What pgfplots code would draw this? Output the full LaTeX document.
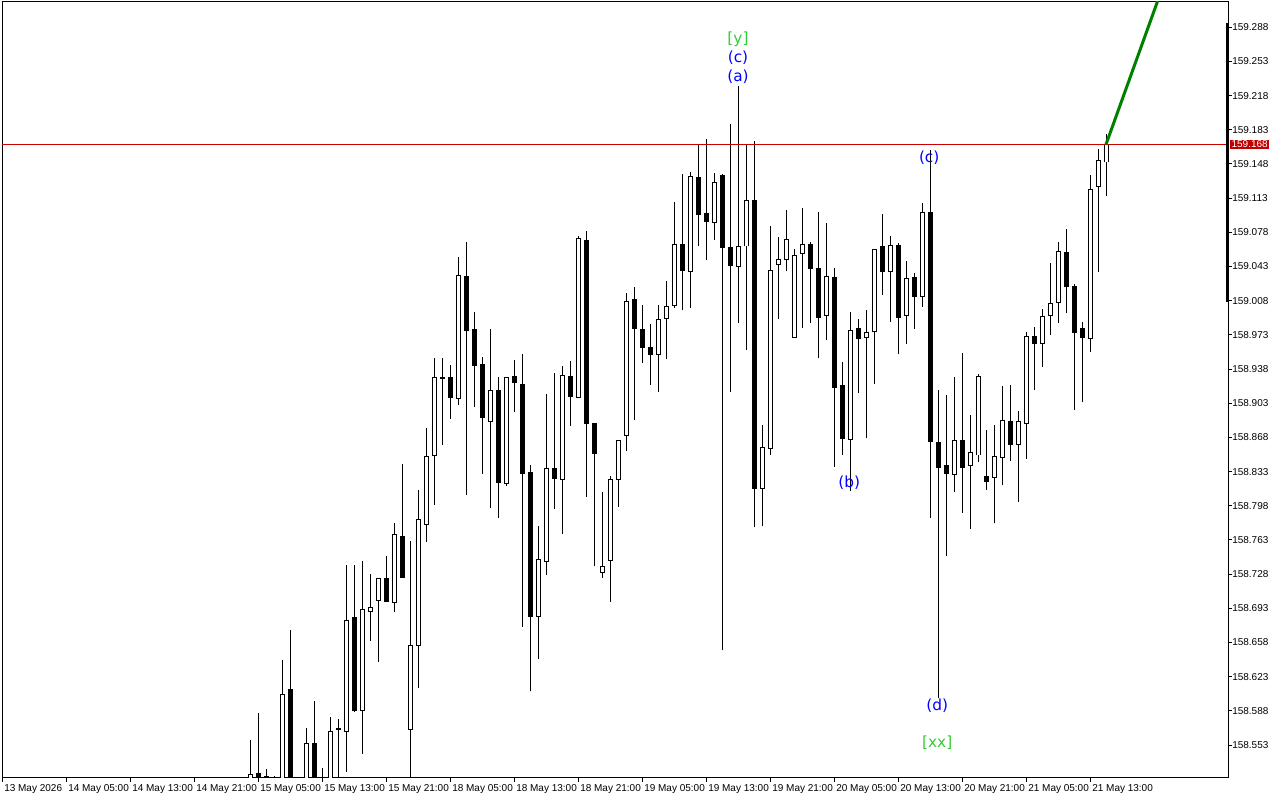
\documentclass[border=0pt]{standalone}
\usepackage{fontspec}
\setmainfont{Liberation Sans}
\newfontfamily\wavefont{DejaVu Sans}
\usepackage{pgfplots}
\usepackage{pgfplotstable}
\pgfplotsset{compat=1.18}
\definecolor{mtred}{RGB}{200,0,0}
\definecolor{mtlabel}{RGB}{192,0,0}
\definecolor{mtgreen}{RGB}{0,128,0}
\definecolor{wavegreen}{RGB}{50,205,50}
\definecolor{waveblue}{RGB}{0,0,255}

\pgfplotstableread{
i o h l c
31 158.510 158.558 158.500 158.523
32 158.524 158.586 158.510 158.520
33 158.521 158.529 158.505 158.517
34 158.510 158.521 158.490 158.505
35 158.500 158.640 158.490 158.605
36 158.610 158.671 158.480 158.490
37 158.495 158.510 158.470 158.500
38 158.500 158.570 158.490 158.555
39 158.555 158.598 158.490 158.500
40 158.505 158.530 158.490 158.515
41 158.510 158.582 158.500 158.567
42 158.570 158.580 158.500 158.569
43 158.567 158.737 158.525 158.681
44 158.684 158.737 158.587 158.588
45 158.588 158.741 158.544 158.692
46 158.690 158.728 158.660 158.694
47 158.701 158.724 158.638 158.724
48 158.724 158.747 158.699 158.700
49 158.699 158.780 158.689 158.769
50 158.767 158.841 158.724 158.725
51 158.569 158.762 158.500 158.655
52 158.655 158.814 158.611 158.784
53 158.779 158.878 158.761 158.848
54 158.849 158.949 158.799 158.929
55 158.929 158.949 158.860 158.928
56 158.929 158.942 158.887 158.909
57 158.908 159.053 158.901 159.034
58 159.033 159.068 158.809 158.977
59 158.979 158.996 158.899 158.942
60 158.943 158.950 158.831 158.888
61 158.884 158.979 158.796 158.916
62 158.916 158.930 158.786 158.822
63 158.821 158.929 158.818 158.929
64 158.930 158.947 158.894 158.924
65 158.922 158.953 158.674 158.831
66 158.832 158.840 158.608 158.685
67 158.685 158.777 158.641 158.743
68 158.741 158.912 158.727 158.836
69 158.836 158.934 158.795 158.826
70 158.825 158.941 158.769 158.931
71 158.930 158.946 158.880 158.910
72 158.909 159.074 158.908 159.072
73 159.070 159.079 158.807 158.882
74 158.882 158.882 158.736 158.852
75 158.730 158.812 158.724 158.736
76 158.742 158.828 158.700 158.825
77 158.825 158.865 158.797 158.865
78 158.870 159.016 158.854 159.007
79 159.009 159.022 158.886 158.979
80 158.979 159.004 158.944 158.960
81 158.960 158.984 158.922 158.953
82 158.953 159.004 158.915 158.989
83 158.990 159.028 158.948 159.002
84 159.003 159.109 159.001 159.066
85 159.066 159.138 158.998 159.039
86 159.038 159.140 159.000 159.135
87 159.134 159.168 159.064 159.096
88 159.097 159.174 159.050 159.089
89 159.088 159.139 159.070 159.129
90 159.136 159.138 158.650 159.062
91 159.062 159.189 158.914 159.044
92 159.043 159.228 158.985 159.063
93 159.064 159.168 158.958 159.111
94 159.111 159.171 158.776 158.816
95 158.816 158.881 158.777 158.858
96 158.857 159.084 158.850 159.039
97 159.045 159.073 158.989 159.050
98 159.050 159.101 159.038 159.071
99 158.970 159.061 158.970 159.054
100 159.056 159.103 158.980 159.066
101 159.066 159.068 158.985 159.041
102 159.041 159.099 158.949 158.991
103 158.993 159.088 158.968 159.033
104 159.032 159.041 158.838 158.919
105 158.921 158.945 158.850 158.867
106 158.866 158.996 158.813 158.977
107 158.980 158.989 158.913 158.969
108 158.970 158.998 158.867 158.975
109 158.976 159.060 158.923 159.060
110 159.063 159.097 159.014 159.038
111 159.038 159.074 158.986 159.065
112 159.065 159.067 158.953 158.991
113 158.993 159.049 158.964 159.031
114 159.032 159.036 158.979 159.012
115 159.012 159.108 159.002 159.098
116 159.098 159.162 158.786 158.864
117 158.863 158.917 158.601 158.837
118 158.839 158.911 158.747 158.831
119 158.830 158.930 158.812 158.865
120 158.865 158.954 158.791 158.837
121 158.839 158.891 158.774 158.853
122 158.850 158.933 158.843 158.930
123 158.828 158.876 158.814 158.823
124 158.827 158.881 158.780 158.848
125 158.847 158.921 158.819 158.885
126 158.884 158.922 158.844 158.861
127 158.861 158.895 158.802 158.884
128 158.882 158.976 158.846 158.971
129 158.971 158.981 158.917 158.964
130 158.964 158.999 158.940 158.992
131 158.993 159.047 158.973 159.005
132 159.006 159.068 158.985 159.058
133 159.057 159.081 158.995 159.022
134 159.023 159.025 158.896 158.975
135 158.980 158.986 158.904 158.970
136 158.969 159.137 158.955 159.122
137 159.125 159.163 159.037 159.152
138 159.150 159.179 159.115 159.168
}\candles

\begin{document}
\begin{tikzpicture}
\useasboundingbox (0,0) rectangle (960pt,600pt);
\begin{axis}[
  at={(1.5pt,598.5pt)}, anchor=north west,
  scale only axis, width=919.5pt, height=582pt,
  xmin=0, xmax=153.25, ymin=158.5193, ymax=159.3138,
  axis line style={black, line width=0.75pt},
  clip mode=individual,
  tick align=outside,
  major tick length=3pt,
  tick style={black, line width=0.75pt},
  xtick pos=left, ytick pos=right, yticklabel pos=right,
  xtick={0,8,16,24,32,40,48,56,64,72,80,88,96,104,112,120,128,136},
  xticklabels={13 May 2026,14 May 05:00,14 May 13:00,14 May 21:00,15 May 05:00,15 May 13:00,15 May 21:00,18 May 05:00,18 May 13:00,18 May 21:00,19 May 05:00,19 May 13:00,19 May 21:00,20 May 05:00,20 May 13:00,20 May 21:00,21 May 05:00,21 May 13:00},
  ytick={158.553,158.588,158.623,158.658,158.693,158.728,158.763,158.798,158.833,158.868,158.903,158.938,158.973,159.008,159.043,159.078,159.113,159.148,159.183,159.218,159.253,159.288},
  yticklabels={158.553,158.588,158.623,158.658,158.693,158.728,158.763,158.798,158.833,158.868,158.903,158.938,158.973,159.008,159.043,159.078,159.113,159.148,159.183,159.218,159.253,159.288},
  x tick label style={font=\fontsize{7.5}{9}\selectfont, anchor=north west, inner sep=0pt, xshift=1.5pt, yshift=-1.5pt},
  y tick label style={font=\fontsize{7.5}{9}\selectfont, anchor=west, inner sep=0pt, xshift=0pt},
]
% wicks
\addplot[draw=none, mark=none,
  error bars/.cd, y dir=plus, y explicit, error mark=none,
  error bar style={draw=black, line width=0.75pt, solid}]
  table[x=i, y=l, y error plus expr=\thisrow{h}-\thisrow{l}] {\candles};
% bearish bodies
\addplot[draw=none, mark=none,
  restrict expr to domain={\thisrow{o}-\thisrow{c}}{0.0000001:1},
  error bars/.cd, y dir=plus, y explicit, error mark=none,
  error bar style={draw=black, line width=3.75pt, solid}]
  table[x=i, y expr=\thisrow{c}-0.0005, y error plus expr=\thisrow{o}-\thisrow{c}+0.001] {\candles};
% bullish bodies: outline
\addplot[draw=none, mark=none,
  restrict expr to domain={\thisrow{c}-\thisrow{o}}{0:1},
  error bars/.cd, y dir=plus, y explicit, error mark=none,
  error bar style={draw=black, line width=3.75pt, solid}]
  table[x=i, y expr=\thisrow{o}-0.0005, y error plus expr=\thisrow{c}-\thisrow{o}+0.001] {\candles};
% bullish bodies: white inside
\addplot[draw=none, mark=none,
  restrict expr to domain={\thisrow{c}-\thisrow{o}}{0.0015:1},
  error bars/.cd, y dir=plus, y explicit, error mark=none,
  error bar style={draw=white, line width=2.25pt, solid}]
  table[x=i, y expr=\thisrow{o}+0.0005, y error plus expr=\thisrow{c}-\thisrow{o}-0.001] {\candles};
% current price line and projection
\addplot[mtred, line width=0.75pt] coordinates {(0,159.168) (153.25,159.168)};
\addplot[mtgreen, line width=2.25pt] coordinates {(138,159.168) (150,159.441)};
\addplot[black, line width=2pt] coordinates {(153.22,159.292) (153.22,159.007)};
\node[fill=mtlabel, text=white, anchor=west, inner xsep=1pt, inner ysep=0.8pt,
  font=\fontsize{7.5}{9}\selectfont] at (axis cs:153.25,159.168) [xshift=1.5pt] {159.168};
\node[text=wavegreen, font=\wavefont\fontsize{11.5}{13}\selectfont] at (axis cs:92,159.2759) {[y]};
\node[text=waveblue, font=\wavefont\fontsize{11.5}{13}\selectfont] at (axis cs:92,159.2565) {(c)};
\node[text=waveblue, font=\wavefont\fontsize{11.5}{13}\selectfont] at (axis cs:92,159.2370) {(a)};
\node[text=waveblue, font=\wavefont\fontsize{11.5}{13}\selectfont] at (axis cs:115.9,159.1541) {(c)};
\node[text=waveblue, font=\wavefont\fontsize{11.5}{13}\selectfont] at (axis cs:105.9,158.8214) {(b)};
\node[text=waveblue, font=\wavefont\fontsize{11.5}{13}\selectfont] at (axis cs:116.9,158.5931) {(d)};
\node[text=wavegreen, font=\wavefont\fontsize{11.5}{13}\selectfont] at (axis cs:116.9,158.5553) {[xx]};
\end{axis}
\end{tikzpicture}
\end{document}
